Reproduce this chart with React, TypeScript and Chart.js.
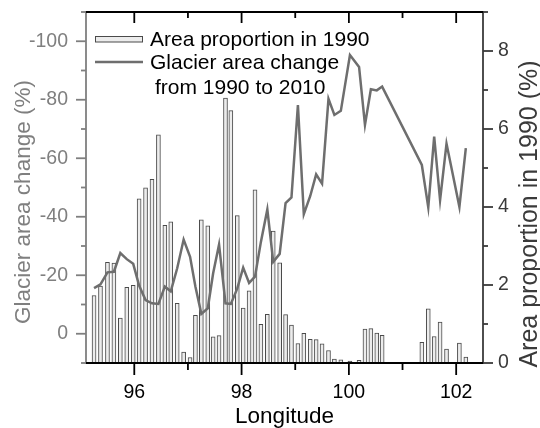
import React, { useEffect, useRef } from 'react';
import { Chart, registerables } from 'chart.js';

Chart.register(...registerables);

// Longitude of each sample (degrees E)
const longitudes = [
  95.25, 95.37, 95.50, 95.62, 95.74, 95.86, 95.98, 96.09, 96.21, 96.33,
  96.45, 96.57, 96.68, 96.80, 96.92, 97.04, 97.14, 97.25, 97.37, 97.47,
  97.58, 97.70, 97.80, 97.92, 98.03, 98.14, 98.25, 98.36, 98.48, 98.59,
  98.71, 98.82, 98.93, 99.05, 99.16, 99.28, 99.39, 99.50, 99.62, 99.73,
  99.85, 100.02, 100.19, 100.30, 100.41, 100.52, 100.62, 101.36, 101.48, 101.59,
  101.70, 101.82, 102.06, 102.18,
];

// Area proportion in 1990 (%), right axis
const areaProportion1990 = [
  1.73, 1.97, 2.58, 2.56, 1.15, 1.94, 1.99, 4.21, 4.49, 4.71,
  5.85, 3.53, 3.62, 1.53, 0.28, 0.14, 1.22, 3.67, 3.52, 0.67,
  0.70, 6.79, 6.47, 3.78, 1.41, 1.85, 4.44, 0.99, 1.25, 3.38,
  2.57, 1.24, 0.97, 0.50, 0.76, 0.61, 0.60, 0.49, 0.32, 0.10,
  0.08, 0.05, 0.07, 0.87, 0.88, 0.77, 0.71, 0.53, 1.39, 0.68,
  1.05, 0.36, 0.51, 0.15,
];

// Glacier area change from 1990 to 2010 (%), left axis (reversed)
const glacierAreaChange = [
  -15.6, -16.9, -21.0, -21.2, -27.6, -25.5, -23.9, -16.5, -11.5, -10.4,
  -10.2, -16.1, -14.5, -22.4, -32.2, -26.3, -16.1, -6.8, -8.7, -20.7,
  -30.5, -10.4, -10.2, -15.5, -22.6, -17.4, -19.5, -31.4, -42.5, -24.6,
  -27.3, -44.7, -46.6, -78.2, -40.9, -47.1, -54.5, -51.3, -80.3, -74.8,
  -76.2, -95.3, -91.2, -71.4, -83.6, -83.2, -84.5, -57.7, -43.2, -67.4,
  -45.7, -65.0, -43.4, -63.5,
];

const xTickValues = [96, 98, 100, 102];
const xMinorValues = [97, 99, 101];
const leftTickValues = [-100, -80, -60, -40, -20, 0];
const leftMinorValues = [-110, -90, -70, -50, -30, -10, 10];
const rightTickValues = [0, 2, 4, 6, 8];
const rightMinorValues = [1, 3, 5, 7, 9];

const FONT = "'Liberation Sans', Arial, sans-serif";
const LINE_COLOR = '#6e6e6e';
const LEFT_COLOR = '#7f7f7f';
const RIGHT_COLOR = '#3a3a3a';
const BAR_FILL = '#ececec';
const BAR_EDGE = '#4a4a4a';

const decorPlugin = {
  id: 'decor',
  afterDraw(chart: any) {
    const { ctx, chartArea: ca, scales } = chart;
    const sx = scales.x;
    const sl = scales.y;
    const sr = scales.y2;
    const seg = (x1: number, y1: number, x2: number, y2: number) => {
      ctx.beginPath();
      ctx.moveTo(x1, y1);
      ctx.lineTo(x2, y2);
      ctx.stroke();
    };
    ctx.save();
    ctx.lineCap = 'butt';

    // left axis
    ctx.strokeStyle = LEFT_COLOR;
    ctx.lineWidth = 1.8;
    seg(ca.left, ca.top - 0.9, ca.left, ca.bottom + 0.9);
    leftTickValues.forEach((v) => {
      const p = sl.getPixelForValue(v);
      seg(ca.left - 10, p, ca.left, p);
    });
    leftMinorValues.forEach((v) => {
      const p = sl.getPixelForValue(v);
      seg(ca.left - 5, p, ca.left, p);
    });

    // right axis
    ctx.strokeStyle = RIGHT_COLOR;
    seg(ca.right, ca.top - 0.9, ca.right, ca.bottom + 0.9);
    rightTickValues.forEach((v) => {
      const p = sr.getPixelForValue(v);
      seg(ca.right, p, ca.right + 10, p);
    });
    rightMinorValues.forEach((v) => {
      const p = sr.getPixelForValue(v);
      seg(ca.right, p, ca.right + 5, p);
    });

    // bottom and top axes
    ctx.strokeStyle = '#000';
    seg(ca.left, ca.bottom, ca.right, ca.bottom);
    seg(ca.left, ca.top, ca.right, ca.top);
    xTickValues.forEach((v) => {
      const p = sx.getPixelForValue(v);
      seg(p, ca.bottom, p, ca.bottom + 12);
      seg(p, ca.top, p, ca.top + 11);
    });
    xMinorValues.forEach((v) => {
      const p = sx.getPixelForValue(v);
      seg(p, ca.bottom, p, ca.bottom + 7);
      seg(p, ca.top, p, ca.top + 6);
    });

    // axis titles
    ctx.textAlign = 'center';
    ctx.textBaseline = 'alphabetic';
    ctx.font = `22.5px ${FONT}`;
    ctx.fillStyle = LEFT_COLOR;
    ctx.save();
    ctx.translate(30, 202);
    ctx.rotate(-Math.PI / 2);
    ctx.fillText('Glacier area change (%)', 0, 0);
    ctx.restore();

    ctx.font = `25px ${FONT}`;
    ctx.fillStyle = RIGHT_COLOR;
    ctx.save();
    ctx.translate(537, 214);
    ctx.rotate(-Math.PI / 2);
    ctx.fillText('Area proportion in 1990 (%)', 0, 0);
    ctx.restore();

    // legend
    ctx.fillStyle = BAR_FILL;
    ctx.strokeStyle = BAR_EDGE;
    ctx.lineWidth = 1;
    ctx.fillRect(95.5, 36.5, 47, 5.5);
    ctx.strokeRect(95.5, 36.5, 47, 5.5);
    ctx.strokeStyle = LINE_COLOR;
    ctx.lineWidth = 2.5;
    seg(95, 62, 143, 62);

    ctx.fillStyle = '#000';
    ctx.font = `21px ${FONT}`;
    ctx.textAlign = 'left';
    ctx.fillText('Area proportion in 1990', 150, 45.5);
    ctx.fillText('Glacier area change', 150, 69);
    ctx.fillText('from 1990 to 2010', 155, 93.5);
    ctx.restore();
  },
};

export default function App() {
  const ref = useRef<HTMLCanvasElement>(null);

  useEffect(() => {
    if (!ref.current) return;
    const tickFont = { family: FONT, size: 19.5 };
    const chart = new Chart(ref.current, {
      type: 'bar',
      data: {
        datasets: [
          {
            type: 'line',
            label: 'Glacier area change from 1990 to 2010',
            data: longitudes.map((x, i) => ({ x, y: glacierAreaChange[i] })),
            yAxisID: 'y',
            xAxisID: 'x',
            borderColor: LINE_COLOR,
            borderWidth: 2.5,
            pointRadius: 0,
            tension: 0,
            fill: false,
            order: 1,
          } as any,
          {
            type: 'bar',
            label: 'Area proportion in 1990',
            data: longitudes.map((x, i) => ({ x, y: areaProportion1990[i] })),
            yAxisID: 'y2',
            xAxisID: 'x',
            backgroundColor: BAR_FILL,
            borderColor: BAR_EDGE,
            borderWidth: 1,
            barThickness: 4,
            order: 2,
          } as any,
        ],
      },
      options: {
        animation: false,
        responsive: false,
        devicePixelRatio: 1,
        layout: { padding: { top: 12, left: 0, right: 0, bottom: 0 } },
        plugins: {
          legend: { display: false },
          tooltip: { enabled: false },
        },
        scales: {
          x: {
            type: 'linear',
            position: 'bottom',
            min: 95.1,
            max: 102.5,
            offset: false,
            afterBuildTicks: (s: any) => {
              s.ticks = xTickValues.map((value) => ({ value }));
            },
            afterFit: (s: any) => {
              s.height = 65;
              s.paddingLeft = 0;
              s.paddingRight = 0;
            },
            ticks: {
              font: tickFont,
              color: '#000',
              padding: 18,
              maxRotation: 0,
              autoSkip: false,
              callback: (v: any) => String(v),
            },
            grid: { display: false, drawTicks: false, offset: false },
            border: { display: false },
            title: {
              display: true,
              text: 'Longitude',
              color: '#000',
              font: { family: FONT, size: 22.5 },
              padding: { top: 0, bottom: -2 },
            },
          },
          y: {
            type: 'linear',
            position: 'left',
            min: -110,
            max: 10,
            reverse: true,
            afterBuildTicks: (s: any) => {
              s.ticks = leftTickValues.map((value) => ({ value }));
            },
            afterFit: (s: any) => {
              s.width = 86;
              s.paddingTop = 0;
              s.paddingBottom = 0;
            },
            ticks: {
              font: tickFont,
              color: LEFT_COLOR,
              padding: 18,
              callback: (v: any) => String(v),
            },
            grid: { display: false, drawTicks: false },
            border: { display: false },
          },
          y2: {
            type: 'linear',
            position: 'right',
            min: 0,
            max: 9,
            afterBuildTicks: (s: any) => {
              s.ticks = rightTickValues.map((value) => ({ value }));
            },
            afterFit: (s: any) => {
              s.width = 57;
              s.paddingTop = 0;
              s.paddingBottom = 0;
            },
            ticks: {
              font: tickFont,
              color: RIGHT_COLOR,
              padding: 15,
              callback: (v: any) => String(v),
            },
            grid: { display: false, drawTicks: false },
            border: { display: false },
          },
        },
      } as any,
      plugins: [decorPlugin],
    });
    return () => chart.destroy();
  }, []);

  return (
    <div style={{ position: 'absolute', left: 0, top: 0, width: 540, height: 428, background: '#fff' }}>
      <canvas ref={ref} width={540} height={428} style={{ display: 'block', width: 540, height: 428 }} />
    </div>
  );
}
